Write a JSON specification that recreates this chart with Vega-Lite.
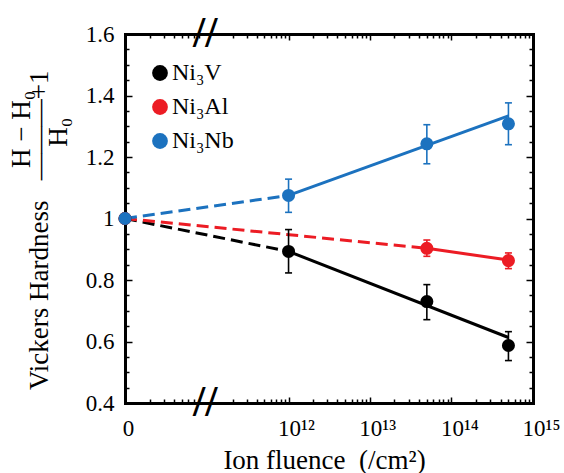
{
  "$schema": "https://vega.github.io/schema/vega-lite/v6.json",
  "width": 408,
  "height": 369,
  "autosize": {"type": "none"},
  "padding": {"left": 125, "top": 34, "right": 31, "bottom": 70},
  "background": "white",
  "config": {
    "view": {"stroke": null},
    "font": "Liberation Serif",
    "axis": {
      "grid": false,
      "domainColor": "black",
      "tickColor": "black",
      "labelColor": "black",
      "titleColor": "black",
      "labelFont": "Liberation Serif",
      "titleFont": "Liberation Serif",
      "titleFontWeight": "normal",
      "domainCap": "square"
    },
    "legend": {
      "labelFont": "Liberation Serif",
      "labelFontSize": 24,
      "labelColor": "black"
    }
  },
  "datasets": {
    "measurements": [
      {"series": "Ni₃V", "fluence": 0, "hardness": 1},
      {"series": "Ni₃V", "fluence": 1e12, "hardness": 0.893, "lo": 0.823, "hi": 0.964},
      {"series": "Ni₃V", "fluence": 5e13, "hardness": 0.730, "lo": 0.671, "hi": 0.785},
      {"series": "Ni₃V", "fluence": 5e14, "hardness": 0.587, "lo": 0.538, "hi": 0.632},
      {"series": "Ni₃Al", "fluence": 0, "hardness": 1},
      {"series": "Ni₃Al", "fluence": 5e13, "hardness": 0.903, "lo": 0.877, "hi": 0.930},
      {"series": "Ni₃Al", "fluence": 5e14, "hardness": 0.863, "lo": 0.837, "hi": 0.888},
      {"series": "Ni₃Nb", "fluence": 0, "hardness": 1},
      {"series": "Ni₃Nb", "fluence": 1e12, "hardness": 1.075, "lo": 1.020, "hi": 1.128},
      {"series": "Ni₃Nb", "fluence": 5e13, "hardness": 1.243, "lo": 1.178, "hi": 1.305},
      {"series": "Ni₃Nb", "fluence": 5e14, "hardness": 1.308, "lo": 1.240, "hi": 1.376}
    ],
    "fits": [
      {"series": "Ni₃V", "fluence": 1e12, "hardness": 0.893},
      {"series": "Ni₃V", "fluence": 5e14, "hardness": 0.613},
      {"series": "Ni₃Al", "fluence": 5e13, "hardness": 0.903},
      {"series": "Ni₃Al", "fluence": 5e14, "hardness": 0.865},
      {"series": "Ni₃Nb", "fluence": 1e12, "hardness": 1.075},
      {"series": "Ni₃Nb", "fluence": 5e14, "hardness": 1.334}
    ],
    "links": [
      {"series": "Ni₃V", "fluence": 0, "hardness": 1},
      {"series": "Ni₃V", "fluence": 1e12, "hardness": 0.893},
      {"series": "Ni₃Al", "fluence": 0, "hardness": 1},
      {"series": "Ni₃Al", "fluence": 5e13, "hardness": 0.903},
      {"series": "Ni₃Nb", "fluence": 0, "hardness": 1},
      {"series": "Ni₃Nb", "fluence": 1e12, "hardness": 1.075}
    ],
    "breaks": [
      {"fluence": 8.6e10, "hardness": 0.4},
      {"fluence": 8.6e10, "hardness": 1.6}
    ]
  },
  "layer": [
    {
      "data": {"name": "links"},
      "mark": {"type": "line", "strokeWidth": 3, "strokeDash": [12, 6]},
      "encoding": {
        "x": {
          "field": "fluence", "type": "quantitative",
          "scale": {"type": "symlog", "constant": 1e10, "domain": [0, 1e15], "nice": false, "zero": false},
          "axis": {
            "orient": "bottom",
            "values": [0, 1e12, 1e13, 1e14, 1e15],
            "ticks": false,
            "domain": true,
            "domainWidth": 3,
            "labelFontSize": 23,
            "labelPadding": 14,
            "labelBaseline": "top",
            "labelFlush": false,
            "labelOverlap": false,
            "labelExpr": "datum.value == 0 ? '0' : datum.value == 1e12 ? '10¹²' : datum.value == 1e13 ? '10¹³' : datum.value == 1e14 ? '10¹⁴' : '10¹⁵'",
            "labelAlign": {"condition": {"test": "datum.value == 0", "value": "center"}, "value": "left"},
            "labelOffset": {"condition": {"test": "datum.value == 0", "value": 3}, "value": -11},
            "title": "Ion fluence\u00a0\u00a0(/cm²)",
            "titleFontSize": 27,
            "titleX": 199,
            "titleY": 65,
            "titleAlign": "center",
            "titleBaseline": "alphabetic"
          }
        },
        "y": {
          "field": "hardness", "type": "quantitative",
          "scale": {"domain": [0.4, 1.6], "nice": false, "zero": false},
          "axis": {
            "orient": "left",
            "values": [0.4, 0.6, 0.8, 1.0, 1.2, 1.4, 1.6],
            "ticks": false,
            "domain": true,
            "domainWidth": 3,
            "labelFontSize": 23,
            "labelPadding": 11,
            "labelExpr": "datum.value == 1 ? '1' : format(datum.value, '.1f')",
            "title": [
              "H − H₀\u00a0\u00a0\u00a0\u200b",
              "Vickers Hardness\u00a0\u00a0\u00a0———+1",
              "H₀\u00a0\u00a0\u00a0\u00a0\u00a0\u00a0\u00a0\u200b"
            ],
            "titleFontSize": 27,
            "titleLineHeight": 18.5,
            "titleAngle": -90,
            "titleAlign": "right",
            "titleBaseline": "alphabetic",
            "titleX": -96,
            "titleY": 36
          }
        },
        "color": {
          "field": "series", "type": "nominal",
          "scale": {"domain": ["Ni₃V", "Ni₃Al", "Ni₃Nb"], "range": ["#000000", "#ec1c24", "#1c72bf"]}
        }
      }
    },
    {
      "data": {"name": "fits"},
      "mark": {"type": "line", "strokeWidth": 3},
      "encoding": {
        "x": {
          "field": "fluence", "type": "quantitative",
          "scale": {"type": "symlog", "constant": 1e10, "domain": [0, 1e15], "nice": false, "zero": false},
          "axis": {
            "orient": "bottom",
            "values": [1e10, 2e10, 3e10, 4e10, 5e10, 6e10, 7e10, 2e11, 3e11, 4e11, 5e11, 6e11, 7e11, 8e11, 9e11, 2e12, 3e12, 4e12, 5e12, 6e12, 7e12, 8e12, 9e12, 2e13, 3e13, 4e13, 5e13, 6e13, 7e13, 8e13, 9e13, 2e14, 3e14, 4e14, 5e14, 6e14, 7e14, 8e14, 9e14],
            "labels": false, "domain": false, "ticks": true, "tickSize": -4, "tickWidth": 1.5, "title": null
          }
        },
        "y": {
          "field": "hardness", "type": "quantitative",
          "scale": {"domain": [0.4, 1.6], "nice": false, "zero": false},
          "axis": {
            "orient": "left",
            "values": [0.45, 0.5, 0.55, 0.65, 0.7, 0.75, 0.85, 0.9, 0.95, 1.05, 1.1, 1.15, 1.25, 1.3, 1.35, 1.45, 1.5, 1.55],
            "labels": false, "domain": false, "ticks": true, "tickSize": -4, "tickWidth": 1.5, "title": null
          }
        },
        "color": {
          "field": "series", "type": "nominal",
          "scale": {"domain": ["Ni₃V", "Ni₃Al", "Ni₃Nb"], "range": ["#000000", "#ec1c24", "#1c72bf"]}
        }
      }
    },
    {
      "data": {"name": "measurements"},
      "transform": [{"filter": "isValid(datum.lo)"}],
      "mark": {"type": "rule", "strokeWidth": 1.6},
      "encoding": {
        "x": {
          "field": "fluence", "type": "quantitative",
          "scale": {"type": "symlog", "constant": 1e10, "domain": [0, 1e15], "nice": false, "zero": false},
          "axis": {
            "orient": "top",
            "values": [1e12, 1e13, 1e14],
            "labels": false, "domain": true, "domainWidth": 3, "ticks": true, "tickSize": -6, "tickWidth": 1.5, "title": null
          }
        },
        "y": {
          "field": "lo", "type": "quantitative",
          "scale": {"domain": [0.4, 1.6], "nice": false, "zero": false},
          "axis": {
            "orient": "right",
            "values": [0.6, 0.8, 1.0, 1.2, 1.4],
            "labels": false, "domain": true, "domainWidth": 3, "ticks": true, "tickSize": -7, "tickWidth": 1.5, "title": null
          }
        },
        "y2": {"field": "hi"},
        "color": {
          "field": "series", "type": "nominal",
          "scale": {"domain": ["Ni₃V", "Ni₃Al", "Ni₃Nb"], "range": ["#000000", "#ec1c24", "#1c72bf"]}
        }
      }
    },
    {
      "data": {"name": "measurements"},
      "transform": [
        {"filter": "isValid(datum.lo)"},
        {"fold": ["lo", "hi"], "as": ["end", "bound"]}
      ],
      "mark": {"type": "tick", "orient": "horizontal", "size": 7, "thickness": 1.6, "opacity": 1},
      "encoding": {
        "x": {
          "field": "fluence", "type": "quantitative",
          "scale": {"type": "symlog", "constant": 1e10, "domain": [0, 1e15], "nice": false, "zero": false},
          "axis": {
            "orient": "top",
            "values": [1e10, 2e10, 3e10, 4e10, 5e10, 6e10, 7e10, 2e11, 3e11, 4e11, 5e11, 6e11, 7e11, 8e11, 9e11, 2e12, 3e12, 4e12, 5e12, 6e12, 7e12, 8e12, 9e12, 2e13, 3e13, 4e13, 5e13, 6e13, 7e13, 8e13, 9e13, 2e14, 3e14, 4e14, 5e14, 6e14, 7e14, 8e14, 9e14],
            "labels": false, "domain": false, "ticks": true, "tickSize": -4, "tickWidth": 1.5, "title": null
          }
        },
        "y": {
          "field": "bound", "type": "quantitative",
          "scale": {"domain": [0.4, 1.6], "nice": false, "zero": false},
          "axis": {
            "orient": "right",
            "values": [0.45, 0.5, 0.55, 0.65, 0.7, 0.75, 0.85, 0.9, 0.95, 1.05, 1.1, 1.15, 1.25, 1.3, 1.35, 1.45, 1.5, 1.55],
            "labels": false, "domain": false, "ticks": true, "tickSize": -4, "tickWidth": 1.5, "title": null
          }
        },
        "color": {
          "field": "series", "type": "nominal",
          "scale": {"domain": ["Ni₃V", "Ni₃Al", "Ni₃Nb"], "range": ["#000000", "#ec1c24", "#1c72bf"]}
        }
      }
    },
    {
      "data": {"name": "measurements"},
      "mark": {"type": "point", "filled": true, "size": 170, "opacity": 1},
      "encoding": {
        "x": {
          "field": "fluence", "type": "quantitative",
          "scale": {"type": "symlog", "constant": 1e10, "domain": [0, 1e15], "nice": false, "zero": false},
          "axis": {
            "orient": "bottom",
            "values": [1e12, 1e13, 1e14],
            "labels": false, "domain": false, "ticks": true, "tickSize": -6, "tickWidth": 1.5, "title": null
          }
        },
        "y": {
          "field": "hardness", "type": "quantitative",
          "scale": {"domain": [0.4, 1.6], "nice": false, "zero": false},
          "axis": {
            "orient": "left",
            "values": [0.6, 0.8, 1.0, 1.2, 1.4],
            "labels": false, "domain": false, "ticks": true, "tickSize": -7, "tickWidth": 1.5, "title": null
          }
        },
        "color": {
          "field": "series", "type": "nominal",
          "scale": {"domain": ["Ni₃V", "Ni₃Al", "Ni₃Nb"], "range": ["#000000", "#ec1c24", "#1c72bf"]},
          "legend": {
            "orient": "none",
            "legendX": 23,
            "legendY": 27,
            "title": null,
            "padding": 0,
            "symbolType": "circle",
            "symbolSize": 250,
            "symbolOpacity": 1,
            "symbolStrokeWidth": 0,
            "symbolDash": [],
            "labelOffset": 0,
            "rowPadding": 10
          }
        }
      }
    },
    {
      "data": {"name": "breaks"},
      "mark": {"type": "text", "text": "//", "font": "Liberation Serif", "fontSize": 44, "fontWeight": "bold", "align": "center", "baseline": "middle", "color": "black"},
      "encoding": {
        "x": {
          "field": "fluence", "type": "quantitative",
          "scale": {"type": "symlog", "constant": 1e10, "domain": [0, 1e15], "nice": false, "zero": false},
          "axis": null
        },
        "y": {
          "field": "hardness", "type": "quantitative",
          "scale": {"domain": [0.4, 1.6], "nice": false, "zero": false},
          "axis": null
        }
      }
    }
  ],
  "resolve": {"axis": {"x": "independent", "y": "independent"}}
}
